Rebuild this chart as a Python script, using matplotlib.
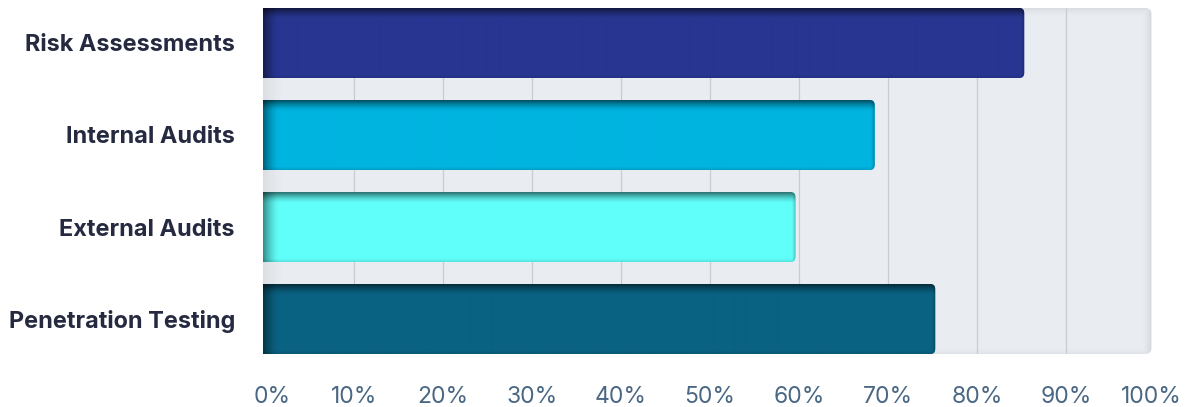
import numpy as np
import matplotlib
matplotlib.use("Agg")
import matplotlib.pyplot as plt
from matplotlib.patches import FancyBboxPatch
from matplotlib.colors import to_rgb
from matplotlib.transforms import ScaledTranslation

# ---- data ----
categories = ["Risk Assessments", "Internal Audits", "External Audits", "Penetration Testing"]
values = [85.3, 68.5, 59.6, 75.3]
colors = ["#283692", "#00B4E0", "#61FFFA", "#0A6282"]
xticks = [0, 10, 20, 30, 40, 50, 60, 70, 80, 90, 100]
xtick_labels = [f"{t}%" for t in xticks]

plt.rcParams['font.family'] = ['Inter', 'DejaVu Sans']

W, H = 1190, 407
fig = plt.figure(figsize=(W / 100, H / 100), dpi=100)
fig.patch.set_facecolor("white")

px_per_unit = 8.9
zero_px = 265.0
xmin, xmax = -0.25, 100.5
left_px = zero_px + xmin * px_per_unit
right_px = zero_px + xmax * px_per_unit
top_px, bottom_px = 8.0, 354.0
ax = fig.add_axes([left_px / W, 1 - bottom_px / H, (right_px - left_px) / W, (bottom_px - top_px) / H])
ax.set_facecolor("none")
for s in ax.spines.values():
    s.set_visible(False)

bar_h = 0.76
ylo, yhi = -0.38, 3.38
units_per_px_y = (yhi - ylo) / (bottom_px - top_px)
units_per_px_x = 1 / px_per_unit

# background panel
bg_right = 99.6
r_px = 6
bg = FancyBboxPatch((xmin, ylo), bg_right - xmin, yhi - ylo,
                    boxstyle=f"round,pad=0,rounding_size={r_px * units_per_px_x}",
                    mutation_aspect=units_per_px_y / units_per_px_x,
                    facecolor="#E9EDF1", edgecolor="none", zorder=0)
ax.add_patch(bg)

# background shading image
bw = int((bg_right - xmin) * px_per_unit)
bh = int(bottom_px - top_px)
xx = np.arange(bw)[None, :]
yy = np.arange(bh)[:, None]
shade = np.zeros((bh, bw))
shade = np.maximum(shade, 0.10 * np.clip(1 - xx / 22, 0, 1) ** 1.5)
shade = np.maximum(shade, 0.14 * np.clip(1 - (bw - 1 - xx) / 10, 0, 1) ** 1.5)
shade = np.maximum(shade, 0.10 * np.clip(1 - yy / 8, 0, 1) ** 1.5)
shade = np.maximum(shade, 0.06 * np.clip(1 - (bh - 1 - yy) / 6, 0, 1) ** 1.5)
img = np.zeros((bh, bw, 4))
img[..., :3] = 0.35
img[..., 3] = shade
im = ax.imshow(img, extent=(xmin, bg_right, yhi, ylo), origin="upper", aspect="auto", zorder=0.5,
               interpolation="bilinear")
im.set_clip_path(bg)

# grid lines
ax.vlines([t for t in xticks if 0 < t < 100], ylo, yhi, colors="#C8CCD1", linewidth=0.9, zorder=1)

# bars
bars = ax.barh(range(len(categories)), values, height=bar_h, left=0, color="none", edgecolor="none")
for bar, col in zip(bars, colors):
    x0 = xmin - 2
    x1 = bar.get_x() + bar.get_width()
    y0 = bar.get_y()
    h = bar.get_height()
    patch = FancyBboxPatch((x0, y0), x1 - x0, h,
                           boxstyle=f"round,pad=0,rounding_size={5 * units_per_px_x}",
                           mutation_aspect=units_per_px_y / units_per_px_x,
                           facecolor=col, edgecolor="none", zorder=2)
    ax.add_patch(patch)
    # inner shading
    pw = int((x1 - xmin) * px_per_unit)
    ph = int(round(h / units_per_px_y))
    xx = np.arange(pw)[None, :]
    yy = np.arange(ph)[:, None]
    a_top = 0.55 * np.clip(1 - yy / 11, 0, 1) ** 1.6
    a_left = 0.45 * np.clip(1 - xx / 16, 0, 1) ** 1.6
    a_right = 0.25 * np.clip(1 - (pw - 1 - xx) / 4, 0, 1) ** 1.5
    a_bot = 0.10 * np.clip(1 - (ph - 1 - yy) / 3, 0, 1)
    d = 1 - (1 - a_top) * (1 - a_left) * (1 - a_right) * (1 - a_bot)
    base = np.array(to_rgb(col))
    im2 = np.zeros((ph, pw, 3))
    im2[:] = base
    im2 = im2 * (1 - d[..., None])
    ii = ax.imshow(im2, extent=(xmin, x1, y0 + h, y0), origin="upper", aspect="auto", zorder=3,
                   interpolation="bilinear")
    ii.set_clip_path(patch)

ax.set_xlim(xmin, xmax)
ax.set_ylim(yhi, ylo)

ax.set_xticks(xticks)
ax.set_xticklabels(xtick_labels, fontsize=16.5, color="#4A6784")
ax.set_yticks(range(len(categories)))
ax.set_yticklabels(categories, fontsize=16.9, fontweight="bold", color="#252A40")
ax.tick_params(axis="x", length=0, pad=23)
ax.tick_params(axis="y", length=0, pad=20)

# keep end labels inside the panel, as in the reference
xl = ax.get_xticklabels()
xl[0].set_transform(xl[0].get_transform() + ScaledTranslation(7 / 100, 0, fig.dpi_scale_trans))
xl[-1].set_transform(xl[-1].get_transform() + ScaledTranslation(-4 / 100, 0, fig.dpi_scale_trans))

fig.savefig("out.png", dpi=100, facecolor="white")
